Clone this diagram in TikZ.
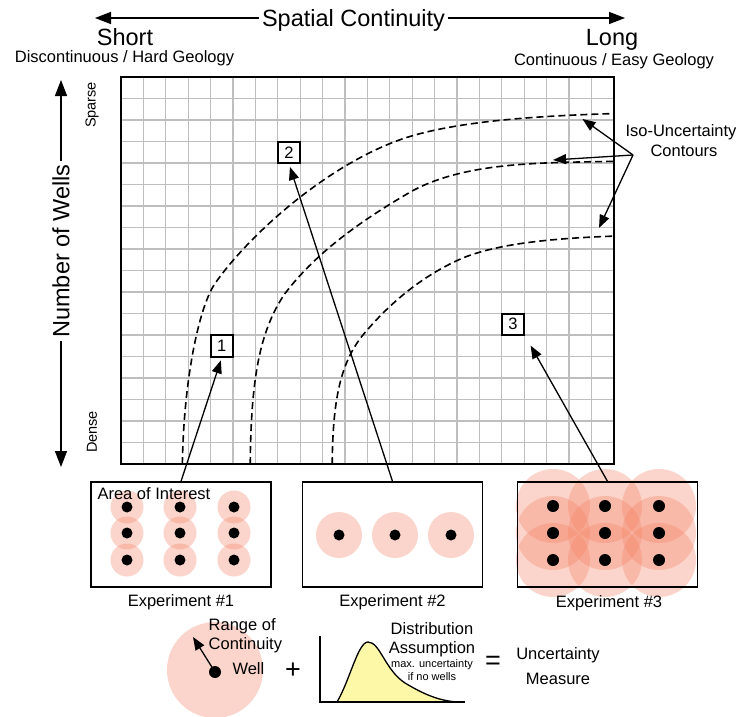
\documentclass[tikz,border=0pt]{standalone}
\usepackage{fontspec}
\setmainfont{Liberation Sans}
\usetikzlibrary{arrows.meta,positioning}
\definecolor{salmonpink}{RGB}{245,130,100}
\definecolor{bellfill}{RGB}{252,248,168}
\definecolor{gridgray}{RGB}{190,190,190}
\newcommand{\titlefnt}{\fontsize{23.5}{26}\selectfont}
\newcommand{\labelfnt}{\fontsize{16.5}{19}\selectfont}
\newcommand{\axisfnt}{\fontsize{14.5}{17}\selectfont}
\newcommand{\notefnt}{\fontsize{11}{13}\selectfont}
\newcommand{\signfnt}{\fontsize{27}{30}\selectfont}
\tikzset{
  arr/.style={line width=1.3pt,-{Triangle[length=13pt,width=10pt]}},
  bigarr/.style={line width=1.5pt,-{Triangle[length=16pt,width=12pt]}},
  contour/.style={line width=1.6pt,dash pattern=on 7pt off 4pt},
  gridline/.style={gridgray,line width=1.3pt},
  halo/.style={fill=salmonpink,fill opacity=0.33},
  welldot/.style={fill=black},
  tight/.style={inner sep=0.5pt},
  numbox/.style={draw,line width=2pt,fill=white,minimum width=22.4pt,minimum height=21.5pt,inner sep=0pt,font=\labelfnt},
  expbox/.style={draw,line width=1.3pt,minimum width=180pt,minimum height=105pt,inner sep=0pt},
}
\begin{document}
\begin{tikzpicture}[x=1pt,y=-1pt]
  \useasboundingbox (0,0) rectangle (736,717);
  \fill[white] (0,0) rectangle (736,717);

  \node[font=\titlefnt,anchor=base] (spatial) at (353.5,26.5) {Spatial Continuity};
  \coordinate (shorttip) at (95,18);
  \coordinate (longtip) at (625,18);
  \draw[bigarr] (spatial.west |- shorttip) -- (shorttip);
  \draw[bigarr] (spatial.east |- longtip) -- (longtip);
  \node[font=\titlefnt,anchor=base] (short) at (125,45.5) {Short};
  \node[font=\titlefnt,anchor=base] (long) at (612,45.5) {Long};
  \node[font=\labelfnt,anchor=base] (hard) at (124.5,63) {Discontinuous / Hard Geology};
  \node[font=\labelfnt,anchor=base] (easy) at (614,66) {Continuous / Easy Geology};

  \node[font=\titlefnt,rotate=90] (wells) at (61,251) {Number of Wells};
  \coordinate (uptip) at (61,80);
  \coordinate (downtip) at (61,467);
  \draw[bigarr] (wells.east) -- (uptip);
  \draw[bigarr] (wells.west) -- (downtip);
  \node[font=\axisfnt,rotate=90] (sparse) at (92,105) {Sparse};
  \node[font=\axisfnt,rotate=90] (dense) at (92,432) {Dense};

  \begin{scope}[shift={(121,77)},x=22.4pt,y=-21.5pt]
    \foreach \i in {1,...,21} \draw[gridline] (\i,0) -- (\i,18);
    \foreach \j in {1,...,17} \draw[gridline] (0,\j) -- (22,\j);
    \draw[line width=1.5pt] (0,0) rectangle (22,18);
    \draw[contour] (2.74,18) .. controls (2.8,14) and (3.5,10.65) .. (4.2,9.6)
      .. controls (5.6,7.5) and (9,4.2) .. (12.5,2.9) .. controls (15,2.0) and (19,1.8) .. (22,1.7);
    \draw[contour] (5.77,18) .. controls (5.8,14) and (6.2,11.8) .. (7.3,10.1)
      .. controls (8.6,8.3) and (10.5,6.8) .. (13,5.3) .. controls (15.5,3.9) and (19,4.0) .. (22,3.92);
    \draw[contour] (9.43,18) .. controls (9.45,15) and (9.8,13.3) .. (10.8,12)
      .. controls (12,10.5) and (13.5,9.2) .. (15.3,8.4) .. controls (17,7.7) and (19.5,7.5) .. (22,7.4);
    \node[numbox] (box1) at (4.5,12.5) {1};
    \node[numbox] (box2) at (7.5,3.5) {2};
    \node[numbox] (box3) at (17.5,11.5) {3};
    \coordinate (tipa) at (20.6,1.95);
    \coordinate (tipb) at (19.29,3.86);
    \coordinate (tipc) at (21.34,7.02);
  \end{scope}

  \node[font=\labelfnt,anchor=base,tight] (iso) at (681,136) {Iso-Uncertainty};
  \node[font=\labelfnt,anchor=base,tight] (contours) at (684,156) {Contours};
  \coordinate (isofoot) at (633,155);
  \draw[arr] (isofoot) -- (tipa);
  \draw[arr] (isofoot) -- (tipb);
  \draw[arr] (isofoot) -- (tipc);

  \foreach \x in {127,180,234} \foreach \y in {507,533,560} \fill[halo] (\x,\y) circle[radius=16.5pt];
  \foreach \x in {339,395,451} \fill[halo] (\x,535) circle[radius=23pt];
  \foreach \x in {553,605,659} \foreach \y in {506,533,560} \fill[halo] (\x,\y) circle[radius=37pt];

  \node[expbox] (exp1) at (181,534.5) {};
  \node[expbox] (exp2) at (392.5,534.5) {};
  \node[expbox] (exp3) at (607.5,534.5) {};

  \foreach \x in {127,180,234} \foreach \y in {507,533,560} \fill[welldot] (\x,\y) circle[radius=5.5pt];
  \foreach \x in {339,395,451} \fill[welldot] (\x,535) circle[radius=5.5pt];
  \foreach \x in {553,605,659} \foreach \y in {506,533,560} \fill[welldot] (\x,\y) circle[radius=6pt];

  \node[font=\labelfnt,anchor=base west] (aoi) at (94,499) {Area of Interest};
  \node[font=\labelfnt,anchor=base] (exp1lab) at (181,606) {Experiment \#1};
  \node[font=\labelfnt,anchor=base] (exp2lab) at (392.5,606) {Experiment \#2};
  \node[font=\labelfnt,anchor=base] (exp3lab) at (609,607) {Experiment \#3};

  \draw[arr,shorten >=3pt] (exp1.north) -- (box1.south);
  \draw[arr,shorten >=3pt] (exp2.north) -- (box2.south);
  \draw[arr,shorten >=11pt] (exp3.north) -- (box3.south east);

  \fill[halo] (215,670) circle[radius=48pt];
  \node[welldot,circle,minimum size=12pt,inner sep=0pt] (well) at (215,672) {};
  \coordinate (rangetip) at (193,637);
  \draw[arr] (well.center) -- (rangetip);
  \node[font=\labelfnt,anchor=base west,tight] (range) at (208,630) {Range of};
  \node[font=\labelfnt,anchor=base west,tight] (cont) at (208,649) {Continuity};
  \node[font=\labelfnt,anchor=base west] (welllab) at (229,674) {Well};
  \node[font=\signfnt] (plus) at (293,671) {+};

  \draw[line width=1.3pt,fill=bellfill] (337,702) .. controls (350,680) and (358,642) .. (368,642)
    .. controls (380,642) and (385,670) .. (405,683) .. controls (425,695) and (440,701) .. (458,702) -- cycle;
  \draw[line width=1.3pt] (320,636) -- (320,702) -- (465,702);
  \node[font=\labelfnt,anchor=base,tight] (dist) at (432,634) {Distribution};
  \node[font=\labelfnt,anchor=base,tight] (assume) at (432,653) {Assumption};
  \node[font=\notefnt,anchor=base,tight] (maxu) at (432,667) {max. uncertainty};
  \node[font=\notefnt,anchor=base,tight] (nowells) at (432,680) {if no wells};
  \node[font=\signfnt] (equals) at (493,663) {=};
  \node[font=\labelfnt,anchor=base,tight] (uncert) at (558,659) {Uncertainty};
  \node[font=\labelfnt,anchor=base,tight] (measure) at (558,684) {Measure};
\end{tikzpicture}
\end{document}
